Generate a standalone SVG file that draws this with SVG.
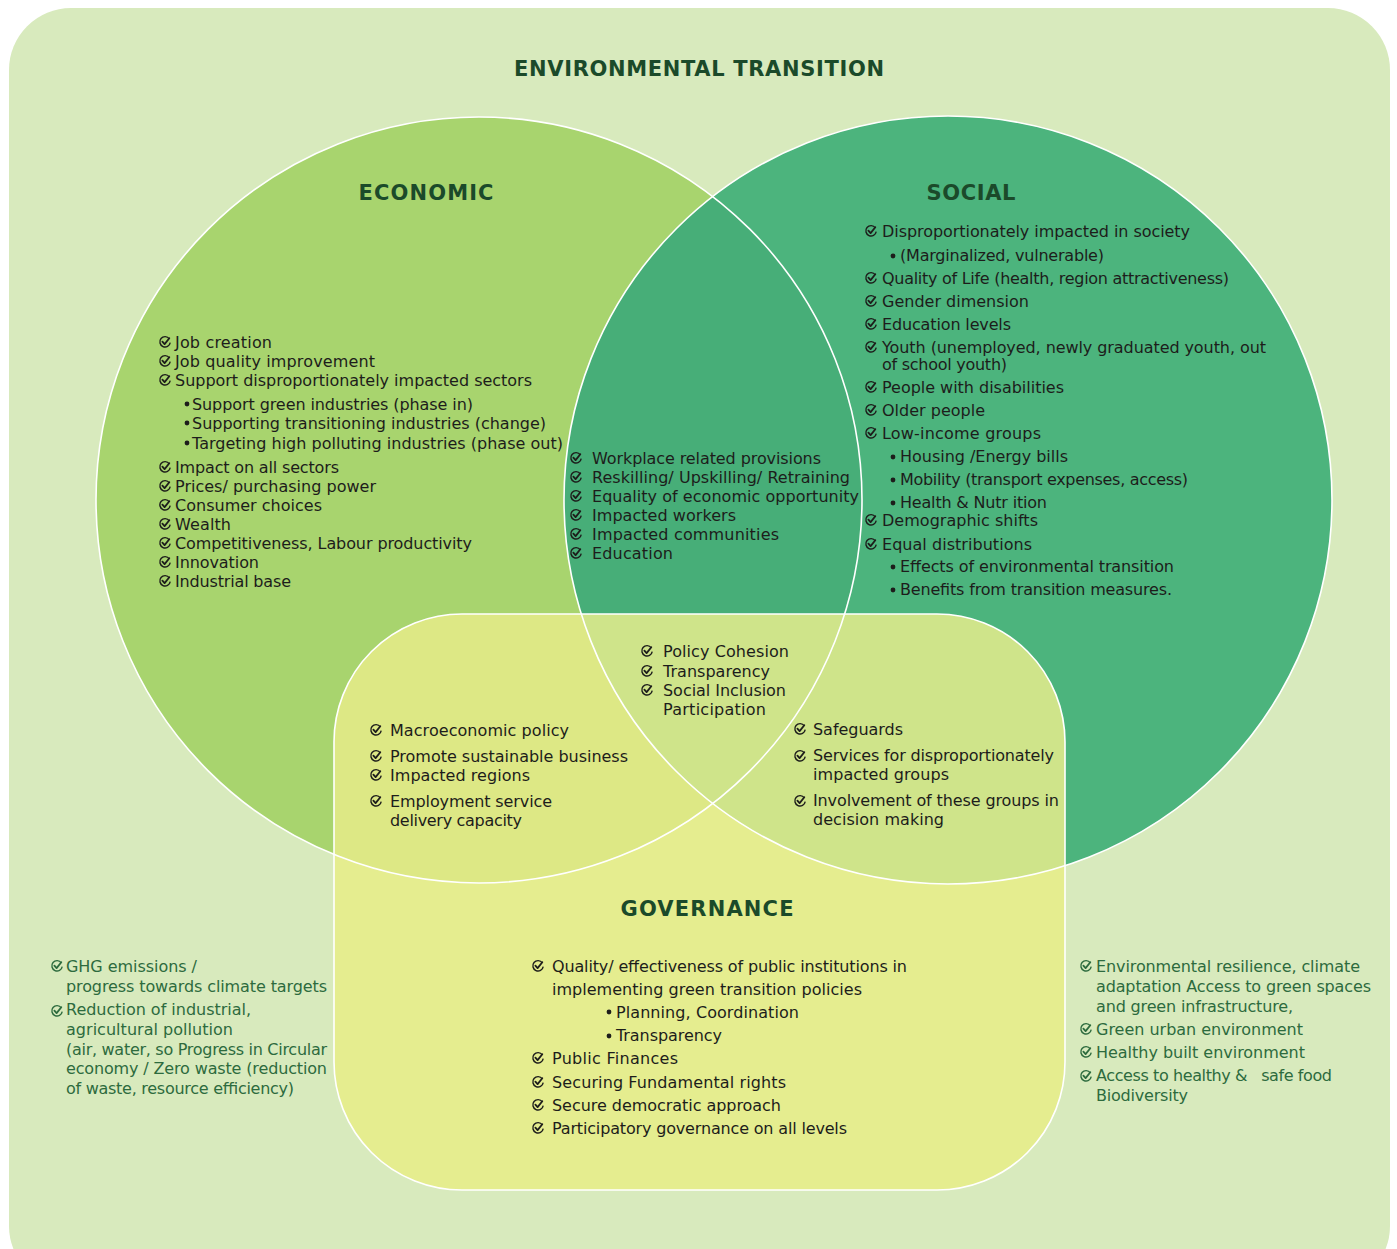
<svg xmlns="http://www.w3.org/2000/svg" xmlns:xlink="http://www.w3.org/1999/xlink" width="1397" height="1249" viewBox="0 0 1397 1249">
<style>
.t{font-family:"DejaVu Sans","Liberation Sans",sans-serif;font-size:16px;fill:#1d1d1b}
.e{font-family:"DejaVu Sans","Liberation Sans",sans-serif;font-size:16px;fill:#2d6b3e}
.h{font-family:"DejaVu Sans","Liberation Sans",sans-serif;font-size:21px;font-weight:bold;fill:#1b4a2a;text-anchor:middle}
.ck{stroke:#1d1d1b}
.cke{stroke:#2d6b3e}
.b{fill:#1d1d1b}
.ln{fill:none;stroke:#ffffff;stroke-width:1.6}
</style>
<defs>
<g id="ck" fill="none">
<path d="M4.3,-3.2 A5.2,5.2 0 1 0 5.2,0.6" stroke-width="1.4"/>
<path d="M-2.6,-0.3 L-0.4,2.1 L4.3,-3.8" stroke-width="1.8" stroke-linecap="round" stroke-linejoin="round"/>
</g>
<clipPath id="cE"><circle cx="479" cy="500" r="383"/></clipPath>
<clipPath id="cS"><circle cx="948" cy="500" r="384"/></clipPath>
<clipPath id="cG"><rect x="334" y="614" width="731" height="576" rx="128"/></clipPath>
</defs>

<g id="background">
<rect x="9" y="8" width="1381" height="1280" rx="62" fill="#d8eabd"/>
<text class="h" x="699" y="76" textLength="370">ENVIRONMENTAL TRANSITION</text>
</g>

<g id="shapes">
<circle cx="479" cy="500" r="383" fill="#a8d46e"/>
<circle cx="948" cy="500" r="384" fill="#4cb47d"/>
<circle cx="948" cy="500" r="384" fill="#47ae78" clip-path="url(#cE)"/>
<rect x="334" y="614" width="731" height="576" rx="128" fill="#e5ed8f"/>
<g clip-path="url(#cG)">
<circle cx="479" cy="500" r="383" fill="#dde885"/>
<circle cx="948" cy="500" r="384" fill="#cfe48a"/>
</g>
<circle class="ln" cx="479" cy="500" r="383"/>
<circle class="ln" cx="948" cy="500" r="384"/>
<rect class="ln" x="334" y="614" width="731" height="576" rx="128"/>
</g>

<g id="economic">
<text class="h" x="426" y="200" textLength="135">ECONOMIC</text>
<g class="ck">
<use href="#ck" x="165" y="342"/><use href="#ck" x="165" y="361"/><use href="#ck" x="165" y="380"/>
<use href="#ck" x="165" y="467"/><use href="#ck" x="165" y="486"/><use href="#ck" x="165" y="505"/><use href="#ck" x="165" y="524"/><use href="#ck" x="165" y="543"/><use href="#ck" x="165" y="562"/><use href="#ck" x="165" y="581"/>
</g>
<g class="b"><circle cx="187" cy="404" r="2.4"/><circle cx="187" cy="423" r="2.4"/><circle cx="187" cy="443" r="2.4"/></g>
<text class="t" x="175" y="348" textLength="97">Job creation</text>
<text class="t" x="175" y="367" textLength="200">Job quality improvement</text>
<text class="t" x="175" y="386" textLength="357">Support disproportionately impacted sectors</text>
<text class="t" x="192" y="410" textLength="281">Support green industries (phase in)</text>
<text class="t" x="192" y="429" textLength="354">Supporting transitioning industries (change)</text>
<text class="t" x="192" y="449" textLength="371">Targeting high polluting industries (phase out)</text>
<text class="t" x="175" y="473" textLength="164">Impact on all sectors</text>
<text class="t" x="175" y="492" textLength="201">Prices/ purchasing power</text>
<text class="t" x="175" y="511" textLength="147">Consumer choices</text>
<text class="t" x="175" y="530" textLength="56">Wealth</text>
<text class="t" x="175" y="549" textLength="297">Competitiveness, Labour productivity</text>
<text class="t" x="175" y="568" textLength="84">Innovation</text>
<text class="t" x="175" y="587" textLength="116">Industrial base</text>
</g>

<g id="social">
<text class="h" x="971" y="200" textLength="89">SOCIAL</text>
<g class="ck">
<use href="#ck" x="871" y="231"/><use href="#ck" x="871" y="278"/><use href="#ck" x="871" y="301"/><use href="#ck" x="871" y="324"/><use href="#ck" x="871" y="347"/><use href="#ck" x="871" y="387"/><use href="#ck" x="871" y="410"/><use href="#ck" x="871" y="433"/><use href="#ck" x="871" y="520"/><use href="#ck" x="871" y="544"/>
</g>
<g class="b"><circle cx="893" cy="256" r="2.4"/><circle cx="893" cy="457" r="2.4"/><circle cx="893" cy="480" r="2.4"/><circle cx="893" cy="503" r="2.4"/><circle cx="893" cy="567" r="2.4"/><circle cx="893" cy="590" r="2.4"/></g>
<text class="t" x="882" y="237" textLength="308">Disproportionately impacted in society</text>
<text class="t" x="900" y="261" textLength="204">(Marginalized, vulnerable)</text>
<text class="t" x="882" y="284" textLength="347">Quality of Life (health, region attractiveness)</text>
<text class="t" x="882" y="307" textLength="147">Gender dimension</text>
<text class="t" x="882" y="330" textLength="129">Education levels</text>
<text class="t" x="882" y="353" textLength="384">Youth (unemployed, newly graduated youth, out</text>
<text class="t" x="882" y="370" textLength="125">of school youth)</text>
<text class="t" x="882" y="393" textLength="182">People with disabilities</text>
<text class="t" x="882" y="416" textLength="103">Older people</text>
<text class="t" x="882" y="439" textLength="159">Low-income groups</text>
<text class="t" x="900" y="462" textLength="168">Housing /Energy bills</text>
<text class="t" x="900" y="485" textLength="288">Mobility (transport expenses, access)</text>
<text class="t" x="900" y="508" textLength="147">Health &amp; Nutr ition</text>
<text class="t" x="882" y="526" textLength="156">Demographic shifts</text>
<text class="t" x="882" y="550" textLength="150">Equal distributions</text>
<text class="t" x="900" y="572" textLength="274">Effects of environmental transition</text>
<text class="t" x="900" y="595" textLength="272">Benefits from transition measures.</text>
</g>

<g id="economic-social">
<g class="ck">
<use href="#ck" x="576" y="458"/><use href="#ck" x="576" y="477"/><use href="#ck" x="576" y="496"/><use href="#ck" x="576" y="515"/><use href="#ck" x="576" y="534"/><use href="#ck" x="576" y="553"/>
</g>
<text class="t" x="592" y="464" textLength="229">Workplace related provisions</text>
<text class="t" x="592" y="483" textLength="258">Reskilling/ Upskilling/ Retraining</text>
<text class="t" x="592" y="502" textLength="267">Equality of economic opportunity</text>
<text class="t" x="592" y="521" textLength="144">Impacted workers</text>
<text class="t" x="592" y="540" textLength="187">Impacted communities</text>
<text class="t" x="592" y="559" textLength="81">Education</text>
</g>

<g id="all-three">
<g class="ck">
<use href="#ck" x="647" y="651"/><use href="#ck" x="647" y="671"/><use href="#ck" x="647" y="690"/>
</g>
<text class="t" x="663" y="657" textLength="126">Policy Cohesion</text>
<text class="t" x="663" y="677" textLength="107">Transparency</text>
<text class="t" x="663" y="696" textLength="123">Social Inclusion</text>
<text class="t" x="663" y="715" textLength="103">Participation</text>
</g>

<g id="economic-governance">
<g class="ck">
<use href="#ck" x="376" y="730"/><use href="#ck" x="376" y="756"/><use href="#ck" x="376" y="775"/><use href="#ck" x="376" y="801"/>
</g>
<text class="t" x="390" y="736" textLength="179">Macroeconomic policy</text>
<text class="t" x="390" y="762" textLength="238">Promote sustainable business</text>
<text class="t" x="390" y="781" textLength="140">Impacted regions</text>
<text class="t" x="390" y="807" textLength="162">Employment service</text>
<text class="t" x="390" y="826" textLength="132">delivery capacity</text>
</g>

<g id="social-governance">
<g class="ck">
<use href="#ck" x="800" y="729"/><use href="#ck" x="800" y="756"/><use href="#ck" x="800" y="801"/>
</g>
<text class="t" x="813" y="735" textLength="90">Safeguards</text>
<text class="t" x="813" y="761" textLength="241">Services for disproportionately</text>
<text class="t" x="813" y="780" textLength="136">impacted groups</text>
<text class="t" x="813" y="806" textLength="246">Involvement of these groups in</text>
<text class="t" x="813" y="825" textLength="131">decision making</text>
</g>

<g id="governance">
<text class="h" x="707" y="916" textLength="173">GOVERNANCE</text>
<g class="ck">
<use href="#ck" x="538" y="966"/><use href="#ck" x="538" y="1058"/><use href="#ck" x="538" y="1082"/><use href="#ck" x="538" y="1105"/><use href="#ck" x="538" y="1128"/>
</g>
<g class="b"><circle cx="609" cy="1012" r="2.4"/><circle cx="609" cy="1036" r="2.4"/></g>
<text class="t" x="552" y="972" textLength="355">Quality/ effectiveness of public institutions in</text>
<text class="t" x="552" y="995" textLength="310">implementing green transition policies</text>
<text class="t" x="616" y="1018" textLength="183">Planning, Coordination</text>
<text class="t" x="616" y="1041" textLength="106">Transparency</text>
<text class="t" x="552" y="1064" textLength="126">Public Finances</text>
<text class="t" x="552" y="1088" textLength="234">Securing Fundamental rights</text>
<text class="t" x="552" y="1111" textLength="229">Secure democratic approach</text>
<text class="t" x="552" y="1134" textLength="295">Participatory governance on all levels</text>
</g>

<g id="environment-left">
<g class="cke">
<use href="#ck" x="57" y="966"/><use href="#ck" x="57" y="1011"/>
</g>
<text class="e" x="66" y="972" textLength="131">GHG emissions /</text>
<text class="e" x="66" y="992" textLength="261">progress towards climate targets</text>
<text class="e" x="66" y="1015" textLength="185">Reduction of industrial,</text>
<text class="e" x="66" y="1035" textLength="167">agricultural pollution</text>
<text class="e" x="66" y="1055" textLength="261">(air, water, so Progress in Circular</text>
<text class="e" x="66" y="1074" textLength="261">economy / Zero waste (reduction</text>
<text class="e" x="66" y="1094" textLength="228">of waste, resource efficiency)</text>
</g>

<g id="environment-right">
<g class="cke">
<use href="#ck" x="1086" y="966"/><use href="#ck" x="1086" y="1029"/><use href="#ck" x="1086" y="1052"/><use href="#ck" x="1086" y="1076"/>
</g>
<text class="e" x="1096" y="972" textLength="264">Environmental resilience, climate</text>
<text class="e" x="1096" y="992" textLength="275">adaptation Access to green spaces</text>
<text class="e" x="1096" y="1012" textLength="197">and green infrastructure,</text>
<text class="e" x="1096" y="1035" textLength="207">Green urban environment</text>
<text class="e" x="1096" y="1058" textLength="209">Healthy built environment</text>
<text class="e" x="1096" y="1081" textLength="236">Access to healthy &amp;&#160;&#160; safe food</text>
<text class="e" x="1096" y="1101" textLength="92">Biodiversity</text>
</g>
</svg>
